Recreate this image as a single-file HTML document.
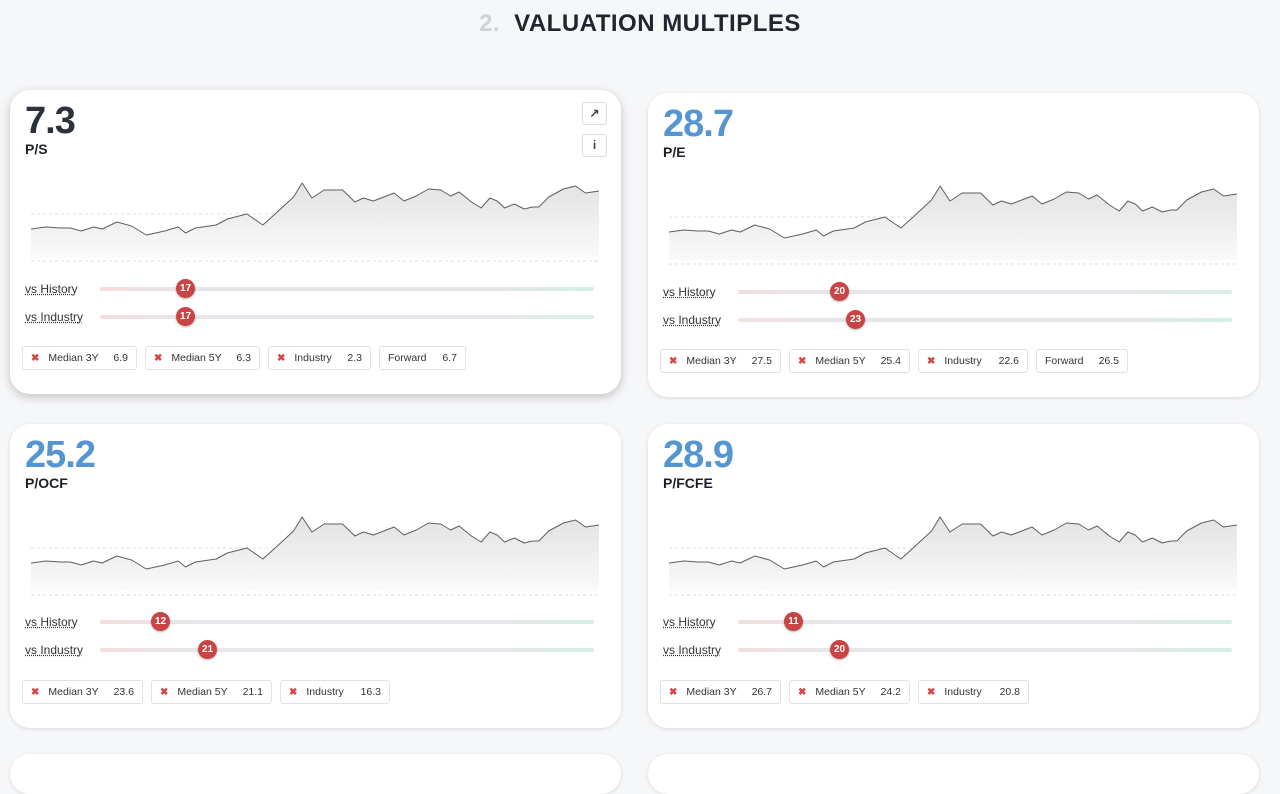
<!DOCTYPE html>
<html><head><meta charset="utf-8"><style>
body{margin:0;width:1280px;height:758px;background:#f6f7f9;font-family:"Liberation Sans",sans-serif;overflow:hidden;position:relative}
.title{position:absolute;top:10px;left:0;width:1280px;text-align:center;font-size:24px;font-weight:bold;color:#1f2630;letter-spacing:0.5px}
.title span{color:#cfd2d6;margin-right:14px}
.card{position:absolute;width:611px;height:304px;background:#fff;border-radius:20px;box-shadow:0 1px 4px rgba(0,0,0,.12)}
.card.sh{box-shadow:0 3px 10px rgba(0,0,0,.22)}
.num{position:absolute;left:15px;top:10px;font-size:38px;font-weight:bold;color:#2b323b;letter-spacing:-1px}
.num.b{color:#5596d2}
.lab{position:absolute;left:15px;top:51px;font-size:14px;font-weight:bold;color:#1c2128}
.chart{position:absolute;left:21px;top:80px;width:568px;height:95px}
.sl{position:absolute;left:15px;font-size:12px;color:#333;text-decoration:underline dotted;}
.tr{position:absolute;left:90px;width:494px;height:4px;border-radius:2px;background:linear-gradient(90deg,#f6dede 0%,#e6e6ea 18%,#e6e6ea 80%,#d4f0e6 100%)}
.kn{position:absolute;width:19px;height:19px;border-radius:50%;background:#c94444;color:#fff;font-size:10px;font-weight:bold;text-align:center;line-height:19px;margin-left:-9px;margin-top:-8px;box-shadow:0 1px 2px rgba(0,0,0,.3)}
.chips{position:absolute;left:12px;top:256px;display:flex;gap:8px}
.chip{border:1px solid #e2e2e2;border-radius:3px;font-size:10.5px;color:#333;display:flex;align-items:center;padding:0 8px;box-sizing:border-box;height:24px;white-space:nowrap;flex-shrink:0}
.chip i{color:#d84545;font-style:normal;font-weight:bold;margin-right:9px;font-size:10px}
.chip b{font-weight:normal;margin-left:auto;padding-left:8px}
.btn{position:absolute;right:14px;width:23px;height:21px;border:1px solid #ddd;border-radius:3px;font-size:12px;text-align:center;line-height:21px;color:#444;font-weight:bold}
</style></head><body>
<div class="title"><span>2.</span>VALUATION MULTIPLES</div>
<svg width="0" height="0" style="position:absolute"><defs>
<linearGradient id="g" x1="0" y1="0" x2="0" y2="1"><stop offset="0" stop-color="#e2e2e2"/><stop offset="1" stop-color="#fafafa"/></linearGradient>
<symbol id="ch" viewBox="26 170 463 95" preserveAspectRatio="none">
<line x1="26" y1="214" x2="489" y2="214" stroke="#ddd" stroke-dasharray="3,3" stroke-width="1" vector-effect="non-scaling-stroke"/>
<line x1="26" y1="261" x2="489" y2="261" stroke="#ddd" stroke-dasharray="3,3" stroke-width="1" vector-effect="non-scaling-stroke"/>
<path d="M26,229 L38,227 L50,228 L58,228 L67,231 L77,227 L84,229 L96,222 L108,226 L120,235 L135,231 L146,227 L152,233 L160,228 L177,225 L186,219 L202,214 L215,225 L225,214 L240,197 L247,183 L255,198 L265,190 L280,190 L290,202 L297,198 L305,201 L322,193 L330,201 L340,196 L350,189 L360,190 L368,196 L375,192 L385,202 L393,208 L400,198 L406,201 L412,208 L420,204 L428,209 L435,207 L440,207 L448,197 L460,189 L470,186 L478,193 L489,191 L489,257 L26,257Z" fill="url(#g)"/>
<path d="M26,229 L38,227 L50,228 L58,228 L67,231 L77,227 L84,229 L96,222 L108,226 L120,235 L135,231 L146,227 L152,233 L160,228 L177,225 L186,219 L202,214 L215,225 L225,214 L240,197 L247,183 L255,198 L265,190 L280,190 L290,202 L297,198 L305,201 L322,193 L330,201 L340,196 L350,189 L360,190 L368,196 L375,192 L385,202 L393,208 L400,198 L406,201 L412,208 L420,204 L428,209 L435,207 L440,207 L448,197 L460,189 L470,186 L478,193 L489,191" fill="none" stroke="#5a5f66" stroke-width="1" stroke-linejoin="round" vector-effect="non-scaling-stroke"/>
</symbol></defs></svg>

<div class="card sh" style="left:10px;top:90px">
<div class="num">7.3</div><div class="lab">P/S</div>
<div class="btn" style="top:12px">&#x2197;</div><div class="btn" style="top:44px">i</div>
<svg class="chart"><use href="#ch" width="568" height="95"/></svg>
<div class="sl" style="top:192px">vs History</div><div class="tr" style="top:197px"><div class="kn" style="left:85px">17</div></div>
<div class="sl" style="top:220px">vs Industry</div><div class="tr" style="top:225px"><div class="kn" style="left:85px">17</div></div>
<div class="chips"><div class="chip" style="width:115px"><i>✖</i>Median 3Y<b>6.9</b></div><div class="chip" style="width:115px"><i>✖</i>Median 5Y<b>6.3</b></div><div class="chip" style="width:103px"><i>✖</i>Industry<b>2.3</b></div><div class="chip" style="width:87px">Forward<b>6.7</b></div></div>
</div>

<div class="card" style="left:648px;top:93px">
<div class="num b">28.7</div><div class="lab">P/E</div>
<svg class="chart"><use href="#ch" width="568" height="95"/></svg>
<div class="sl" style="top:192px">vs History</div><div class="tr" style="top:197px"><div class="kn" style="left:101px">20</div></div>
<div class="sl" style="top:220px">vs Industry</div><div class="tr" style="top:225px"><div class="kn" style="left:117px">23</div></div>
<div class="chips"><div class="chip" style="width:121px"><i>✖</i>Median 3Y<b>27.5</b></div><div class="chip" style="width:121px"><i>✖</i>Median 5Y<b>25.4</b></div><div class="chip" style="width:110px"><i>✖</i>Industry<b>22.6</b></div><div class="chip" style="width:92px">Forward<b>26.5</b></div></div>
</div>

<div class="card" style="left:10px;top:424px">
<div class="num b">25.2</div><div class="lab">P/OCF</div>
<svg class="chart"><use href="#ch" width="568" height="95"/></svg>
<div class="sl" style="top:191px">vs History</div><div class="tr" style="top:196px"><div class="kn" style="left:60px">12</div></div>
<div class="sl" style="top:219px">vs Industry</div><div class="tr" style="top:224px"><div class="kn" style="left:107px">21</div></div>
<div class="chips"><div class="chip" style="width:121px"><i>✖</i>Median 3Y<b>23.6</b></div><div class="chip" style="width:121px"><i>✖</i>Median 5Y<b>21.1</b></div><div class="chip" style="width:110px"><i>✖</i>Industry<b>16.3</b></div></div>
</div>

<div class="card" style="left:648px;top:424px">
<div class="num b">28.9</div><div class="lab">P/FCFE</div>
<svg class="chart"><use href="#ch" width="568" height="95"/></svg>
<div class="sl" style="top:191px">vs History</div><div class="tr" style="top:196px"><div class="kn" style="left:55px">11</div></div>
<div class="sl" style="top:219px">vs Industry</div><div class="tr" style="top:224px"><div class="kn" style="left:101px">20</div></div>
<div class="chips"><div class="chip" style="width:121px"><i>✖</i>Median 3Y<b>26.7</b></div><div class="chip" style="width:121px"><i>✖</i>Median 5Y<b>24.2</b></div><div class="chip" style="width:111px"><i>✖</i>Industry<b>20.8</b></div></div>
</div>

<div class="card" style="left:10px;top:754px;height:40px"></div>
<div class="card" style="left:648px;top:754px;height:40px"></div>
</body></html>
